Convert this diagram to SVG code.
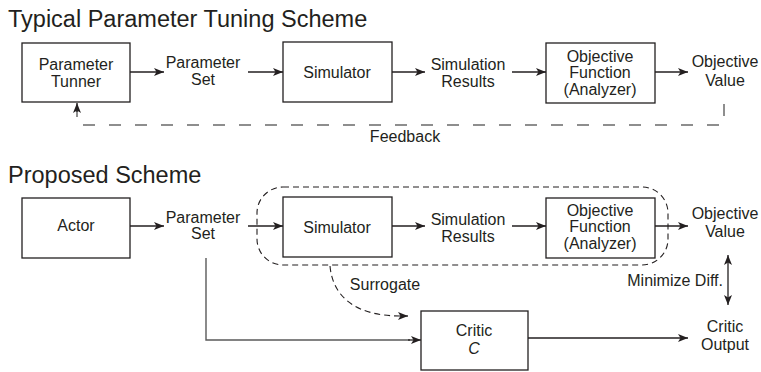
<svg xmlns="http://www.w3.org/2000/svg" width="761" height="372" viewBox="0 0 761 372">
<style>
text{font-family:"Liberation Sans",Arial,sans-serif;fill:#231f20}
.t{font-size:16px;text-anchor:middle}
.h{font-size:23.5px}
.box{fill:#fff;stroke:#231f20;stroke-width:1.3}
.ln{fill:none;stroke:#231f20;stroke-width:1.3}
.gl{fill:none;stroke:#5a5a5a;stroke-width:1.4}
.fb{fill:none;stroke:#6a6a6a;stroke-width:1.5;stroke-dasharray:12 14}
.ds{fill:none;stroke:#231f20;stroke-width:1.1;stroke-dasharray:6 4}
</style>
<defs>
<marker id="ah" markerUnits="userSpaceOnUse" markerWidth="12" markerHeight="10" refX="10" refY="4" orient="auto-start-reverse">
<path d="M0,0 L10,4 L0,8 L2.5,4 z" fill="#231f20"/>
</marker>
</defs>

<text class="h" x="8" y="27">Typical Parameter Tuning Scheme</text>
<text class="h" x="8" y="183">Proposed Scheme</text>

<!-- top scheme nodes -->
<g id="tunner">
<rect class="box" x="22" y="43" width="108" height="59"/>
<text class="t" x="76" y="70">Parameter</text>
<text class="t" x="76" y="87">Tunner</text>
</g>
<g id="paramset1">
<text class="t" x="203" y="68">Parameter</text>
<text class="t" x="203" y="85">Set</text>
</g>
<g id="simulator1">
<rect class="box" x="283" y="42" width="109" height="60"/>
<text class="t" x="337" y="78">Simulator</text>
</g>
<g id="simresults1">
<text class="t" x="468" y="70">Simulation</text>
<text class="t" x="468" y="87">Results</text>
</g>
<g id="objfunc1">
<rect class="box" x="546" y="43" width="109" height="60"/>
<text class="t" x="600" y="62">Objective</text>
<text class="t" x="600" y="78">Function</text>
<text class="t" x="600" y="95">(Analyzer)</text>
</g>
<g id="objvalue1">
<text class="t" x="725" y="67">Objective</text>
<text class="t" x="725" y="86">Value</text>
</g>

<!-- bottom scheme nodes -->
<g id="actor">
<rect class="box" x="22" y="198" width="108" height="60"/>
<text class="t" x="76" y="231">Actor</text>
</g>
<g id="paramset2">
<text class="t" x="203" y="223">Parameter</text>
<text class="t" x="203" y="239">Set</text>
</g>
<g id="simulator2">
<rect class="box" x="283" y="197" width="109" height="60"/>
<text class="t" x="337" y="233">Simulator</text>
</g>
<g id="simresults2">
<text class="t" x="468" y="225">Simulation</text>
<text class="t" x="468" y="242">Results</text>
</g>
<g id="objfunc2">
<rect class="box" x="546" y="198" width="109" height="60"/>
<text class="t" x="600" y="216">Objective</text>
<text class="t" x="600" y="232">Function</text>
<text class="t" x="600" y="249">(Analyzer)</text>
</g>
<g id="objvalue2">
<text class="t" x="725" y="219">Objective</text>
<text class="t" x="725" y="237">Value</text>
</g>
<g id="critic">
<rect class="box" x="421" y="311" width="107" height="59"/>
<text class="t" x="474" y="336">Critic</text>
<text class="t" x="474" y="354" font-style="italic">C</text>
</g>
<g id="criticoutput">
<text class="t" x="725" y="332">Critic</text>
<text class="t" x="725" y="350">Output</text>
</g>
<g id="surrogate-region">
<rect class="ds" x="257" y="187" width="411" height="78" rx="26" ry="26"/>
</g>

<g id="connectors">
<line class="ln" x1="130" y1="72" x2="164" y2="72" marker-end="url(#ah)"/>
<line class="ln" x1="248" y1="72" x2="283" y2="72" marker-end="url(#ah)"/>
<line class="ln" x1="392" y1="72" x2="425" y2="72" marker-end="url(#ah)"/>
<line class="ln" x1="512" y1="72" x2="546" y2="72" marker-end="url(#ah)"/>
<line class="ln" x1="655" y1="72" x2="688" y2="72" marker-end="url(#ah)"/>
<path class="fb" d="M724,104 V125 H77 V110"/>
<line class="ln" x1="77" y1="112" x2="77" y2="103" marker-end="url(#ah)"/>
<text x="405" y="142" style="font-size:16px;text-anchor:middle">Feedback</text>

<line class="ln" x1="130" y1="226" x2="164" y2="226" marker-end="url(#ah)"/>
<line class="ln" x1="248" y1="226" x2="283" y2="226" marker-end="url(#ah)"/>
<line class="ln" x1="392" y1="226" x2="425" y2="226" marker-end="url(#ah)"/>
<line class="ln" x1="512" y1="226" x2="546" y2="226" marker-end="url(#ah)"/>
<line class="ln" x1="655" y1="226" x2="688" y2="226" marker-end="url(#ah)"/>
<path class="ds" d="M330,266 C333,300 360,316 400,316"/>
<line class="ln" x1="400" y1="316" x2="408" y2="316" marker-end="url(#ah)"/>
<text x="385" y="290" style="font-size:16px;text-anchor:middle">Surrogate</text>
<path class="gl" d="M206,258 V340 H410"/>
<line class="ln" x1="408" y1="340" x2="421" y2="340" marker-end="url(#ah)"/>
<line class="ln" x1="528" y1="338" x2="688" y2="338" marker-end="url(#ah)"/>
<line class="ln" x1="728" y1="255" x2="728" y2="305" marker-start="url(#ah)" marker-end="url(#ah)"/>
<text x="723" y="286" style="font-size:16px;text-anchor:end">Minimize Diff.</text>
</g>
</svg>
